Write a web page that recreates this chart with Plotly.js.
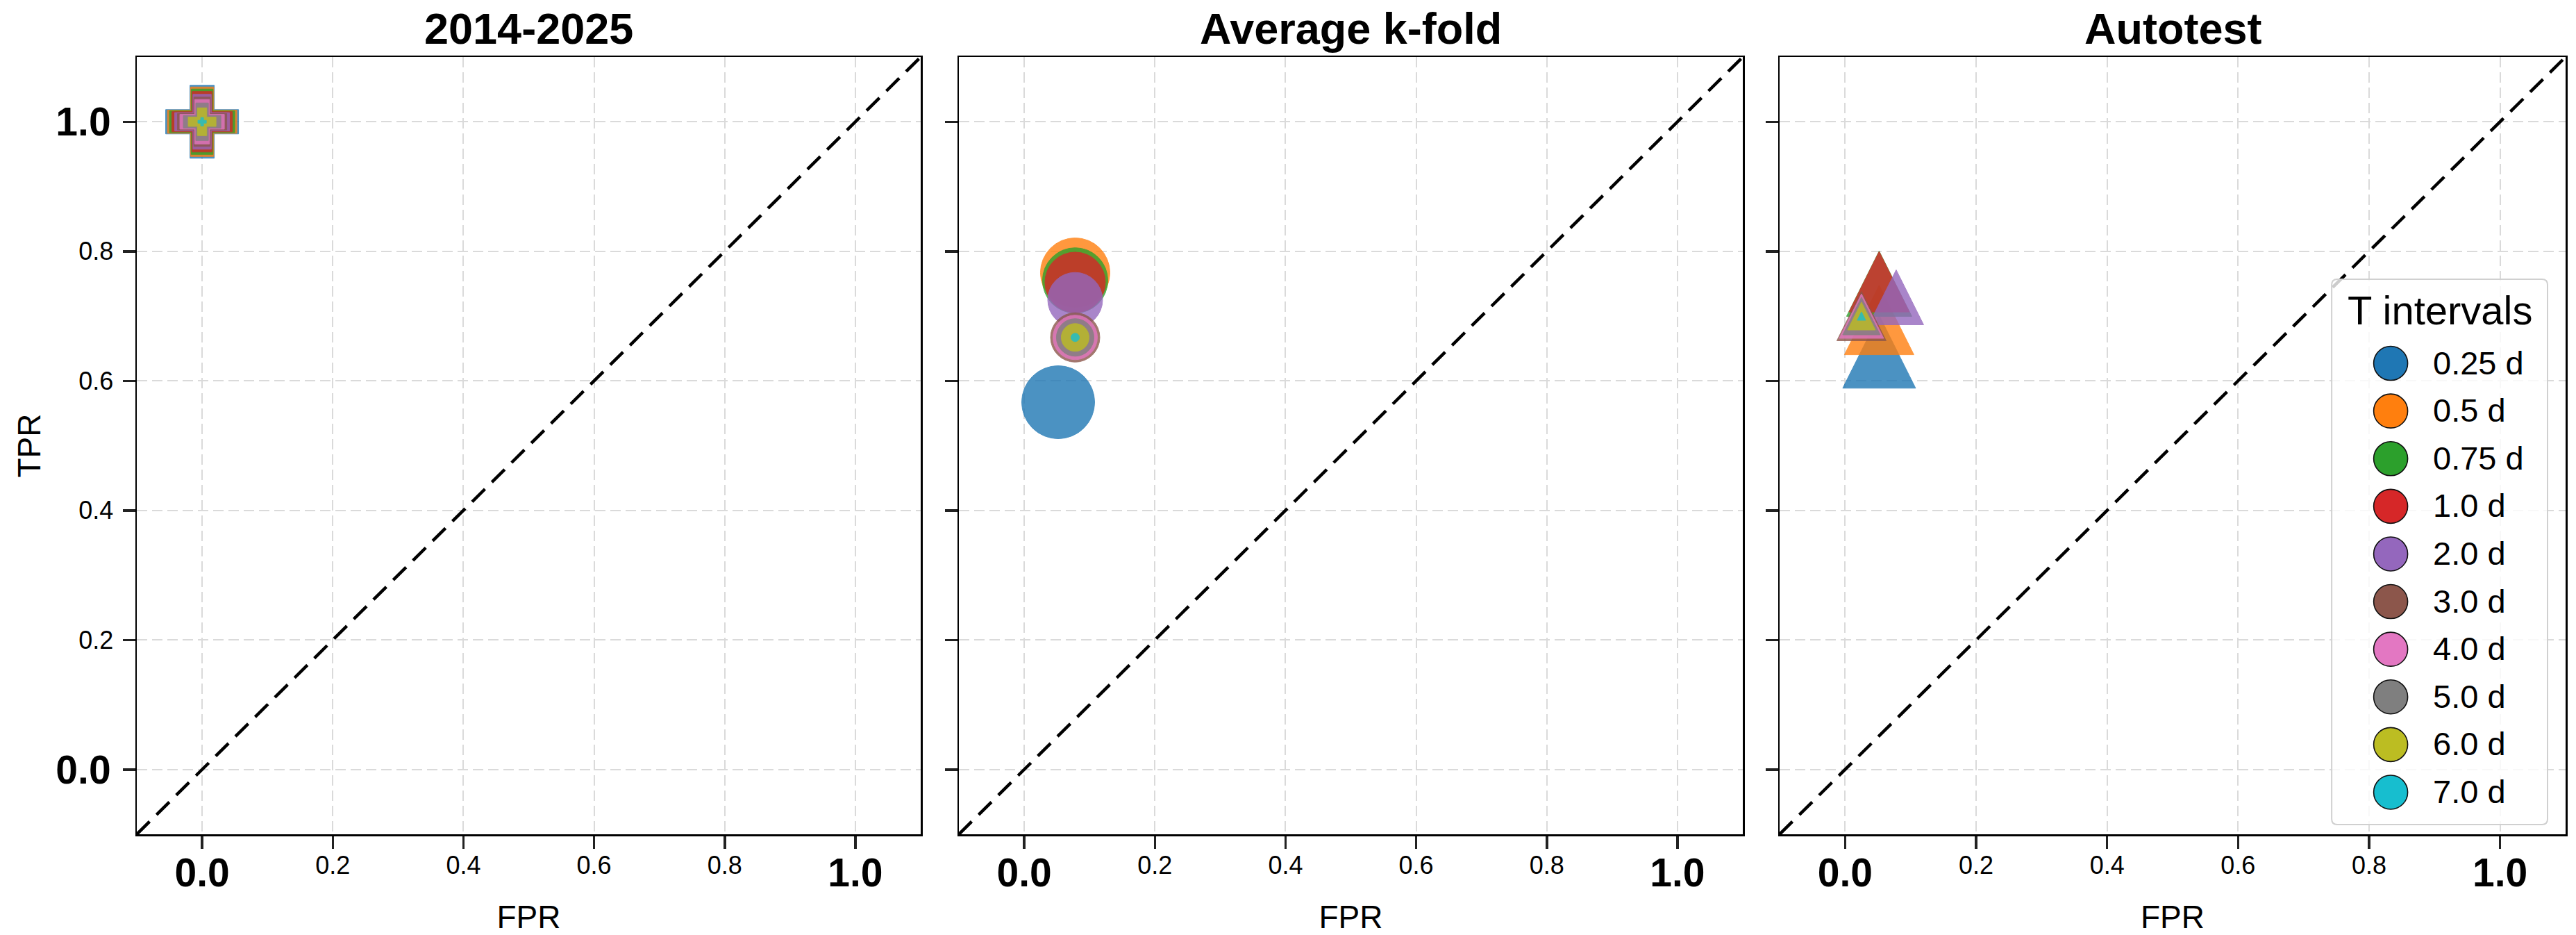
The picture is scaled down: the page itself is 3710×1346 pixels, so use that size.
<!DOCTYPE html>
<html>
<head>
<meta charset="utf-8">
<script src="https://cdn.plot.ly/plotly-3.0.1.min.js"></script>
<style>html,body{margin:0;padding:0;background:#fff;}#chart{width:3710px;height:1346px;}</style>
</head>
<body>
<div id="chart"></div>
<script>
// ---------- data ----------
const intervals = ['0.25 d', '0.5 d', '0.75 d', '1.0 d', '2.0 d', '3.0 d', '4.0 d', '5.0 d', '6.0 d', '7.0 d'];
const panelTitles = ['2014-2025', 'Average k-fold', 'Autotest'];
const axisRange = [-0.1, 1.1];
const tickVals = [0, 0.2, 0.4, 0.6, 0.8, 1.0];
const minorTickText = ['', '0.2', '0.4', '0.6', '0.8', ''];
const endTickVals = [0, 1];
const endTickText = ['0.0', '1.0'];

const fpr2014 = [0, 0, 0, 0, 0, 0, 0, 0, 0, 0];
const tpr2014 = [1, 1, 1, 1, 1, 1, 1, 1, 1, 1];
const fprKfold = [0.052, 0.078, 0.078, 0.078, 0.078, 0.078, 0.078, 0.078, 0.078, 0.078];
const tprKfold = [0.567, 0.767, 0.755, 0.752, 0.725, 0.667, 0.667, 0.667, 0.667, 0.667];
const fprAuto = [0.052, 0.052, 0.052, 0.052, 0.078, 0.025, 0.025, 0.025, 0.025, 0.025];
const tprAuto = [0.645, 0.694, 0.750, 0.753, 0.729, 0.700, 0.700, 0.700, 0.700, 0.700];

// ---------- styles ----------
const colors = ['#1f77b4', '#ff7f0e', '#2ca02c', '#d62728', '#9467bd', '#8c564b', '#e377c2', '#7f7f7f', '#bcbd22', '#17becf'];
const markerSizes = [105, 100, 94, 87, 79, 71, 64, 54, 40, 12];
const FONT = 'Liberation Sans, Arial, Helvetica, sans-serif';

function markerFor(k, i) {
  const d = markerSizes[i];
  const base = {color: colors[i], opacity: 0.8, line: {color: colors[i], width: 1}};
  if (k === 0) return Object.assign(base, {symbol: 'cross', size: d / 1.2});
  if (k === 1) return Object.assign(base, {symbol: 'circle', size: d});
  // isosceles "^" triangle centred on the point (like matplotlib)
  return Object.assign(base, {symbol: 'arrow-down', size: d, angle: 180, standoff: d / 2});
}
const panelData = [[fpr2014, tpr2014], [fprKfold, tprKfold], [fprAuto, tprAuto]];
const domains = [[0, 0.32276], [0.33848, 0.66124], [0.67639, 1]];

const traces = [];
panelData.forEach(([fpr, tpr], k) => {
  const xa = k === 0 ? 'x' : 'x' + (k + 1);
  const ya = k === 0 ? 'y' : 'y' + (k + 1);
  traces.push({
    x: axisRange, y: axisRange, mode: 'lines', xaxis: xa, yaxis: ya,
    line: {color: '#000', width: 4.5, dash: '26px,14px'},
    showlegend: false, hoverinfo: 'skip'
  });
  intervals.forEach((name, i) => {
    traces.push({
      x: [fpr[i]], y: [tpr[i]], mode: 'markers', name: name, xaxis: xa, yaxis: ya,
      marker: markerFor(k, i), showlegend: false, cliponaxis: false
    });
  });
});
// empty traces so the overlay (bold tick label) axes exist
[['x4', 'y'], ['x5', 'y2'], ['x6', 'y3'], ['x', 'y4']].forEach(([xa, ya]) => {
  traces.push({x: [], y: [], xaxis: xa, yaxis: ya, mode: 'markers', showlegend: false, hoverinfo: 'skip'});
});
// legend drawn as its own small subplot
traces.push({
  x: intervals.map(() => 0), y: intervals.map((_, i) => i), mode: 'markers', xaxis: 'x7', yaxis: 'y7',
  marker: {symbol: 'circle', size: 49, color: colors, line: {color: '#111', width: 1.6}},
  showlegend: false, hoverinfo: 'skip', cliponaxis: false
});

function mainX(k) {
  return {
    domain: domains[k], range: axisRange, anchor: k === 0 ? 'y' : 'y' + (k + 1),
    tickmode: 'array', tickvals: tickVals, ticktext: minorTickText,
    ticks: 'outside', ticklen: 18, tickwidth: 3.5, tickcolor: '#222',
    tickfont: {family: FONT, size: 36, color: '#000'}, ticklabelstandoff: -7,
    showline: true, linecolor: '#000', linewidth: 2.5, mirror: true,
    showgrid: true, gridcolor: '#dadada', gridwidth: 2, griddash: '15px,7px', zeroline: false,
    title: {text: 'FPR', font: {family: FONT, size: 46, color: '#000'}, standoff: 55}
  };
}
function mainY(k) {
  return {
    domain: [0, 1], range: axisRange, anchor: k === 0 ? 'x' : 'x' + (k + 1),
    tickmode: 'array', tickvals: tickVals, ticktext: minorTickText, showticklabels: k === 0,
    ticks: 'outside', ticklen: 18, tickwidth: 3.5, tickcolor: '#222',
    tickfont: {family: FONT, size: 36, color: '#000'}, ticklabelstandoff: 6,
    showline: true, linecolor: '#000', linewidth: 2.5, mirror: true,
    showgrid: true, gridcolor: '#dadada', gridwidth: 2, griddash: '15px,7px', zeroline: false,
    title: k === 0 ? {text: 'TPR', font: {family: FONT, size: 46, color: '#000'}, standoff: 40} : {text: ''}
  };
}
function boldX(over, anchor) {
  return {
    overlaying: over, anchor: anchor, side: 'bottom', range: axisRange,
    tickmode: 'array', tickvals: endTickVals, ticktext: endTickText,
    ticks: 'outside', ticklen: 18, tickcolor: 'rgba(0,0,0,0)', ticklabelstandoff: -12,
    tickfont: {family: FONT, size: 57, weight: 700, color: '#000'},
    showline: false, showgrid: false, zeroline: false
  };
}

const lx0 = 0.9037, lx1 = 0.99257, ly0 = 0.0125, ly1 = 0.7140;
const rx = 8 / 311, ry = 8 / 785;

const annotations = [];
panelTitles.forEach((t, k) => {
  const s = k === 0 ? '' : String(k + 1);
  annotations.push({
    text: t, xref: 'x' + s + ' domain', yref: 'y' + s + ' domain', x: 0.5, y: 1,
    xanchor: 'center', yanchor: 'middle', yshift: 41, showarrow: false,
    font: {family: FONT, size: 63, weight: 700, color: '#000'}
  });
});
intervals.forEach((name, i) => {
  annotations.push({
    text: name, xref: 'x7', yref: 'y7', x: 59, y: i, xanchor: 'left', yanchor: 'middle', yshift: 1,
    showarrow: false, font: {family: FONT, size: 47, color: '#000'}
  });
});
annotations.push({
  text: 'T intervals', xref: 'x7 domain', yref: 'y7', x: 0.5, y: -1.12,
  xanchor: 'center', yanchor: 'middle', showarrow: false,
  font: {family: FONT, size: 58, color: '#000'}
});

const layout = {
  width: 3710, height: 1346,
  margin: {l: 197, r: 15, t: 82, b: 145, pad: 0},
  paper_bgcolor: '#ffffff', plot_bgcolor: 'rgba(255,255,255,0.8)',
  font: {family: FONT, color: '#000'},
  showlegend: false,
  xaxis: mainX(0), xaxis2: mainX(1), xaxis3: mainX(2),
  yaxis: mainY(0), yaxis2: mainY(1), yaxis3: mainY(2),
  xaxis4: boldX('x', 'y'), xaxis5: boldX('x2', 'y2'), xaxis6: boldX('x3', 'y3'),
  yaxis4: {
    overlaying: 'y', anchor: 'x', side: 'left', range: axisRange,
    tickmode: 'array', tickvals: endTickVals, ticktext: endTickText,
    ticks: 'outside', ticklen: 18, tickcolor: 'rgba(0,0,0,0)', ticklabelstandoff: 7,
    tickfont: {family: FONT, size: 57, weight: 700, color: '#000'},
    showline: false, showgrid: false, zeroline: false
  },
  xaxis7: {domain: [lx0, lx1], range: [-85, 226], anchor: 'y7', visible: false, fixedrange: true},
  yaxis7: {domain: [ly0, ly1], range: [9.679, -1.764], anchor: 'x7', visible: false, fixedrange: true},
  shapes: [{
    type: 'path', xref: 'x7 domain', yref: 'y7 domain', layer: 'above',
    path: `M ${rx},0 L ${1 - rx},0 Q 1,0 1,${ry} L 1,${1 - ry} Q 1,1 ${1 - rx},1 L ${rx},1 Q 0,1 0,${1 - ry} L 0,${ry} Q 0,0 ${rx},0 Z`,
    line: {color: '#d0d0d0', width: 2}, fillcolor: 'rgba(0,0,0,0)'
  }],
  annotations: annotations
};

Plotly.newPlot('chart', traces, layout, {displayModeBar: false, staticPlot: true});
</script>
</body>
</html>
